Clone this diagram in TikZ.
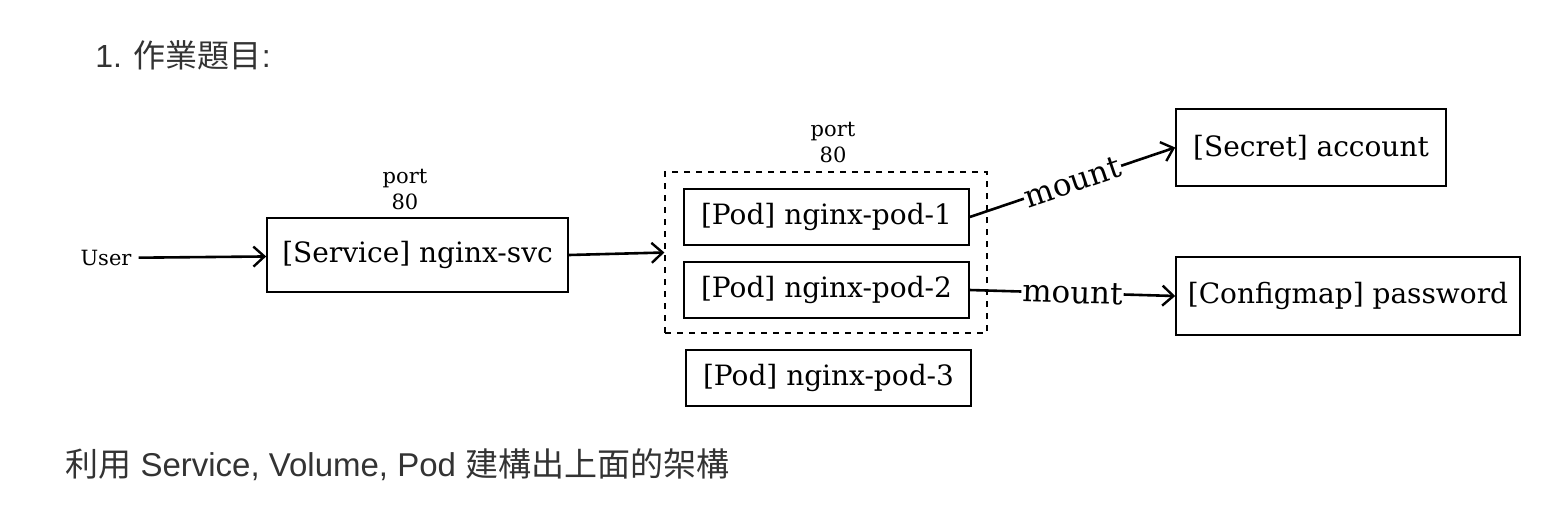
\documentclass[tikz,border=0pt]{standalone}
\usepackage{fontspec}
\setmainfont{DejaVu Serif}
\newfontfamily\cjk{Noto Sans CJK TC}
\newfontfamily\latin{Liberation Sans}
\usetikzlibrary{arrows.meta}

\begin{document}
\begin{tikzpicture}[x=0.5pt, y=-0.5pt, >={Straight Barb[length=5.5pt,width=10pt,line width=1.2pt]},
  box/.style={draw, line width=0.8pt, inner sep=0pt, font=\fontsize{14}{16}\selectfont},
  note/.style={align=center, font=\fontsize{10.5}{13}\selectfont},
  prose/.style={anchor=west, inner sep=0pt, text=black!80, font=\latin\fontsize{16}{18}\selectfont},
  link/.style={->, line width=1.3pt},
  mnt/.style={sloped, fill=white, inner sep=0.5pt, font=\fontsize{15.5}{16}\selectfont}]
\useasboundingbox (0,0) rectangle (1560,516);

\node[prose] (title) at (95,55) {1. {\cjk 作業題目}:};
\node[prose, font=\latin\fontsize{16.5}{18}\selectfont] (task) at (65,465) {{\cjk 利用} Service, Volume, Pod {\cjk 建構出上面的架構}};

\node[font=\fontsize{10.5}{12}\selectfont] (user) at (106,258) {User};
\node[box, minimum width=150.5pt, minimum height=37pt] (svc) at (417.5,255) {[Service] nginx-svc};
\node[note] (svcport) at (405,189) {port\\80};

\node[draw, dashed, line width=0.6pt, minimum width=161pt, minimum height=80.5pt] (pods) at (826,252.5) {};
\node[note] (podport) at (833,142) {port\\80};
\node[box, minimum width=142.5pt, minimum height=28pt] (pod1) at (826.5,217) {[Pod] nginx-pod-1};
\node[box, minimum width=142.5pt, minimum height=28pt] (pod2) at (826.5,290) {[Pod] nginx-pod-2};
\node[box, minimum width=142.5pt, minimum height=28pt] (pod3) at (828.5,378) {[Pod] nginx-pod-3};

\node[box, minimum width=135pt, minimum height=38.5pt] (secret) at (1311,147.5) {[Secret] account};
\node[box, minimum width=172pt, minimum height=39pt] (config) at (1348,296) {[Configmap] password};

\draw[link] (user) -- (svc);
\draw[link] (svc.east) -- (pods.west);
\draw[link] (pod1.east) -- node[mnt] {mount} (secret.west);
\draw[link] (pod2.east) -- node[mnt] {mount} (config.west);
\end{tikzpicture}
\end{document}
